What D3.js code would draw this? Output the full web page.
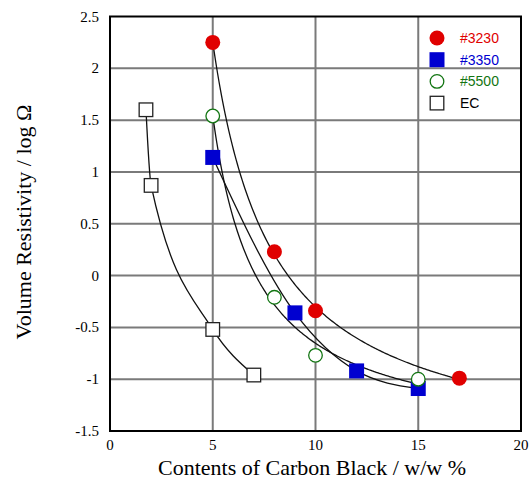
<!DOCTYPE html>
<html>
<head>
<meta charset="utf-8">
<script src="https://cdn.jsdelivr.net/npm/d3@7"></script>
<style>
  html, body { margin: 0; padding: 0; background: #ffffff; }
  svg { display: block; }
</style>
</head>
<body>
<div id="chart"></div>
<script>
// Series names, colours and point data
const seriesNames = ["#3230", "#3350", "#5500", "EC"];
const seriesColors = ["#e00000", "#0000d0", "#127512", "#000000"];
const x3230 = [5, 8, 10, 17];
const y3230 = [2.25, 0.23, -0.34, -0.99];
const x3350 = [5, 9, 12, 15];
const y3350 = [1.14, -0.36, -0.92, -1.09];
const x5500 = [5, 8, 10, 15];
const y5500 = [1.54, -0.21, -0.77, -1.0];
const xEC = [1.75, 2, 5, 7];
const yEC = [1.6, 0.87, -0.52, -0.96];
// trend line kind per series: "hyperbola" = least squares y = a + b/(x - c), "spline" = monotone spline
const fitKinds = ["hyperbola", "spline", "hyperbola", "spline"];

const xTicks = [0, 5, 10, 15, 20];
const yTicks = [-1.5, -1, -0.5, 0, 0.5, 1, 1.5, 2, 2.5];

const width = 529, height = 480;
const plot = { left: 110, right: 521, top: 16.5, bottom: 431 };

const svg = d3.select("#chart").append("svg")
  .attr("width", width)
  .attr("height", height);

const x = d3.scaleLinear().domain([0, 20]).range([plot.left, plot.right]);
const y = d3.scaleLinear().domain([-1.5, 2.5]).range([plot.bottom, plot.top]);

const data = [
  { name: seriesNames[0], xs: x3230, ys: y3230, marker: "circle", filled: true },
  { name: seriesNames[1], xs: x3350, ys: y3350, marker: "square", filled: true },
  { name: seriesNames[2], xs: x5500, ys: y5500, marker: "circle", filled: false },
  { name: seriesNames[3], xs: xEC, ys: yEC, marker: "square", filled: false }
].map((s, i) => ({ ...s, color: seriesColors[i], fit: fitKinds[i] }));

// grid
const grid = svg.append("g").attr("stroke", "#7a7a7a").attr("stroke-width", 2);
grid.selectAll(".gx").data(xTicks.slice(1, -1)).enter().append("line")
  .attr("x1", d => x(d)).attr("x2", d => x(d))
  .attr("y1", plot.top).attr("y2", plot.bottom);
grid.selectAll(".gy").data(yTicks.slice(1, -1)).enter().append("line")
  .attr("y1", d => y(d)).attr("y2", d => y(d))
  .attr("x1", plot.left).attr("x2", plot.right);

// least squares fit of y = a + b/(x - c), c found by a grid search
function fitHyperbola(xs, ys) {
  let best = null;
  const minX = d3.min(xs);
  for (let c = minX - 10; c < minX - 0.05; c += 0.01) {
    const u = xs.map(v => 1 / (v - c));
    const mu = d3.mean(u), my = d3.mean(ys);
    let sxy = 0, sxx = 0;
    u.forEach((v, i) => { sxy += (v - mu) * (ys[i] - my); sxx += (v - mu) * (v - mu); });
    const b = sxy / sxx, a = my - b * mu;
    const sse = d3.sum(u, (v, i) => (a + b * v - ys[i]) ** 2);
    if (!best || sse < best.sse) best = { a, b, c, sse };
  }
  return v => best.a + best.b / (v - best.c);
}

const line = d3.line().x(d => x(d[0])).y(d => y(d[1]));
const curves = svg.append("g")
  .attr("fill", "none")
  .attr("stroke", "#111")
  .attr("stroke-width", 1.3);

data.forEach(s => {
  const pts = s.xs.map((v, i) => [v, s.ys[i]]);
  if (s.fit === "hyperbola") {
    const f = fitHyperbola(s.xs, s.ys);
    const [x0, x1] = d3.extent(s.xs);
    const samples = d3.range(0, 201).map(k => x0 + (x1 - x0) * k / 200);
    curves.append("path").attr("d", line(samples.map(v => [v, f(v)])));
  } else {
    curves.append("path").attr("d", line.curve(d3.curveMonotoneX)(pts));
    line.curve(d3.curveLinear);
  }
});

// markers
function drawMarker(g, s, cx, cy) {
  if (s.marker === "circle") {
    g.append("circle")
      .attr("cx", cx).attr("cy", cy)
      .attr("r", s.filled ? 7.5 : 6.8)
      .attr("fill", s.filled ? s.color : "#ffffff")
      .attr("stroke", s.filled ? "none" : s.color)
      .attr("stroke-width", 1.3);
  } else {
    const half = s.filled ? 7.5 : 6.8;
    g.append("rect")
      .attr("x", cx - half).attr("y", cy - half)
      .attr("width", half * 2).attr("height", half * 2)
      .attr("fill", s.filled ? s.color : "#ffffff")
      .attr("stroke", s.filled ? "none" : "#222")
      .attr("stroke-width", 1.3);
  }
}

const marks = svg.append("g");
data.forEach(s => {
  s.xs.forEach((v, i) => drawMarker(marks, s, x(v), y(s.ys[i])));
});

// frame
svg.append("rect")
  .attr("x", plot.left).attr("y", plot.top)
  .attr("width", plot.right - plot.left).attr("height", plot.bottom - plot.top)
  .attr("fill", "none").attr("stroke", "#000").attr("stroke-width", 2);

// tick labels
const serif = "'Liberation Serif', 'Times New Roman', serif";
svg.append("g").selectAll("text").data(yTicks).enter().append("text")
  .attr("x", plot.left - 11).attr("y", d => y(d) + 5)
  .attr("text-anchor", "end")
  .attr("font-family", serif).attr("font-size", "15px")
  .text(d => d);

svg.append("g").selectAll("text").data(xTicks).enter().append("text")
  .attr("x", d => x(d)).attr("y", plot.bottom + 19)
  .attr("text-anchor", "middle")
  .attr("font-family", serif).attr("font-size", "15px")
  .text(d => d);

// axis titles
svg.append("text")
  .attr("x", 312).attr("y", 475)
  .attr("text-anchor", "middle")
  .attr("font-family", serif).attr("font-size", "22px")
  .text("Contents of Carbon Black / w/w %");

svg.append("text")
  .attr("transform", "translate(31,222) rotate(-90)")
  .attr("text-anchor", "middle")
  .attr("font-family", serif).attr("font-size", "22px")
  .text("Volume Resistivity / log Ω");

// legend
const legend = svg.append("g").attr("transform", "translate(437,38)");
data.forEach((s, i) => {
  const row = legend.append("g").attr("transform", `translate(0,${i * 21.7})`);
  drawMarker(row, s, 0, 0);
  row.append("text")
    .attr("x", 23).attr("y", 5)
    .attr("fill", s.color)
    .attr("font-family", "'Liberation Sans', Arial, sans-serif")
    .attr("font-size", "14px")
    .text(s.name);
});
</script>
</body>
</html>
